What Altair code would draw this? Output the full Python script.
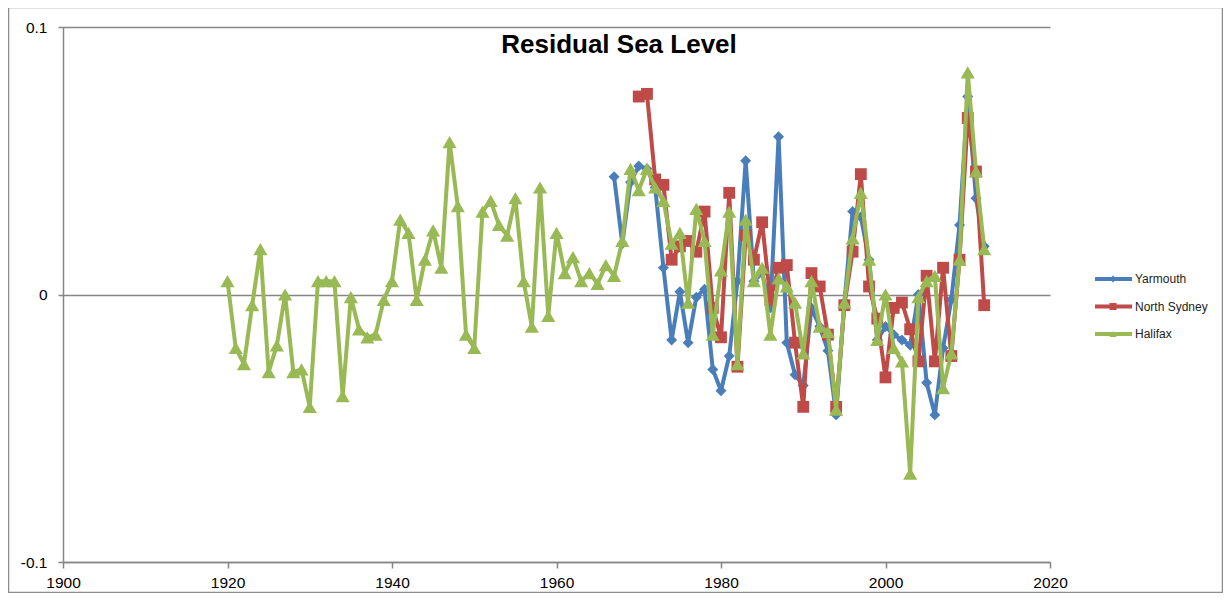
import altair as alt
import pandas as pd

names = ["Yarmouth", "North Sydney", "Halifax"]
colors = ["#4A7EBB", "#BE4B48", "#98B954"]
shapes = ["diamond", "square", "triangle-up"]
marker_sizes = [120, 140, 200]

yarmouth_years = list(range(1967, 2013))
yarmouth = [0.044, 0.019, 0.042, 0.048, 0.047, 0.040, 0.010, -0.017, 0.001, -0.018,
            -0.001, 0.002, -0.028, -0.036, -0.023, 0.005, 0.050, 0.005, 0.008, -0.005,
            0.059, -0.018, -0.030, -0.034, -0.005, -0.012, -0.021, -0.045, -0.003, 0.031,
            0.029, 0.013, -0.017, -0.012, -0.015, -0.017, -0.019, 0.000, -0.033, -0.045,
            -0.020, -0.002, 0.026, 0.074, 0.036, 0.018]

north_sydney_years = list(range(1970, 2013))
north_sydney = [0.074, 0.075, 0.043, 0.041, 0.013, 0.018, 0.020, 0.016, 0.031, -0.005,
                -0.016, 0.038, -0.027, 0.022, 0.013, 0.027, -0.002, 0.010, 0.011, -0.018,
                -0.042, 0.008, 0.003, -0.015, -0.042, -0.004, 0.016, 0.045, 0.003, -0.009,
                -0.031, -0.005, -0.003, -0.013, -0.025, 0.007, -0.025, 0.010, -0.023, 0.013,
                0.066, 0.046, -0.004]

halifax_years = list(range(1920, 2013))
halifax = [0.005, -0.020, -0.026, -0.004, 0.017, -0.029, -0.019, 0.000, -0.029, -0.028,
           -0.042, 0.005, 0.005, 0.005, -0.038, -0.001, -0.013, -0.016, -0.015, -0.002,
           0.005, 0.028, 0.023, -0.002, 0.013, 0.024, 0.010, 0.057, 0.033, -0.015,
           -0.020, 0.031, 0.035, 0.026, 0.022, 0.036, 0.005, -0.012, 0.040, -0.008,
           0.023, 0.008, 0.014, 0.005, 0.008, 0.004, 0.011, 0.007, 0.020, 0.047,
           0.039, 0.047, 0.040, 0.035, 0.019, 0.023, -0.003, 0.032, 0.020, -0.015,
           0.009, 0.031, -0.026, 0.028, 0.005, 0.010, -0.015, 0.006, 0.003, -0.003,
           -0.022, 0.005, -0.012, -0.014, -0.043, -0.003, 0.021, 0.038, 0.013, -0.017,
           0.000, -0.020, -0.025, -0.067, -0.001, 0.005, 0.007, -0.035, -0.022, 0.013,
           0.083, 0.046, 0.017]

x_ticks = [1900, 1920, 1940, 1960, 1980, 2000, 2020]
y_ticks = [-0.1, 0, 0.1]

series = [
    (names[0], yarmouth_years, yarmouth),
    (names[1], north_sydney_years, north_sydney),
    (names[2], halifax_years, halifax),
]
df = pd.concat([pd.DataFrame({"year": yrs, "level": vals, "station": name})
                for name, yrs, vals in series])

FONT = "Liberation Sans"
AXIS_GREY = "#868686"

color_scale = alt.Scale(domain=names, range=colors)
x_enc = alt.X("year:Q", scale=alt.Scale(domain=[1900, 2020], nice=False, zero=False),
              axis=alt.Axis(values=x_ticks, format="d", title=None, grid=False,
                            tickSize=6, labelPadding=7, labelFlush=False))
y_enc = alt.Y("level:Q", scale=alt.Scale(domain=[-0.1, 0.1], nice=False),
              axis=alt.Axis(values=y_ticks, title=None, grid=True, tickSize=5,
                            labelPadding=11,
                            labelExpr="datum.value == 0 ? '0' : toString(datum.value)"))
col_enc = alt.Color("station:N", scale=color_scale, legend=None)

layers = []

# outer chart frame (Excel style border)
one = pd.DataFrame({"k": [0]})
layers.append(alt.Chart(one).mark_rect(fillOpacity=0, stroke="#8c8c8c", strokeWidth=1.5).encode(
    x=alt.value(-54.5), x2=alt.value(1159.5), y=alt.value(-19.5), y2=alt.value(565.5)))

# one line + marker layer per station, drawn in legend order
for name, shape, msize in zip(names, shapes, marker_sizes):
    sub = alt.Chart(df).transform_filter(alt.datum.station == name)
    layers.append(sub.mark_line(strokeWidth=4, strokeJoin="round").encode(
        x=x_enc, y=y_enc, color=col_enc))
    layers.append(sub.mark_point(filled=True, opacity=1, shape=shape, size=msize).encode(
        x=x_enc, y=y_enc, color=col_enc))

# title inside the plot area
title_df = pd.DataFrame({"t": ["Residual Sea Level"]})
layers.append(alt.Chart(title_df).mark_text(
    font=FONT, fontSize=26, fontWeight="bold", color="black", align="center",
    baseline="alphabetic").encode(text="t:N", x=alt.value(556), y=alt.value(26)))

# legend on the right
for i, (name, color, shape) in enumerate(zip(names, colors, shapes)):
    ly = 252 + i * 27.5
    row = pd.DataFrame({"station": [name]})
    layers.append(alt.Chart(row).mark_rule(color=color, strokeWidth=4).encode(
        x=alt.value(1032), x2=alt.value(1069), y=alt.value(ly)))
    layers.append(alt.Chart(row).mark_point(filled=True, opacity=1, shape=shape, size=50,
                                            color=color).encode(
        x=alt.value(1050), y=alt.value(ly)))
    layers.append(alt.Chart(row).mark_text(font=FONT, fontSize=12, color="#222222",
                                           align="left", baseline="middle").encode(
        text="station:N", x=alt.value(1072), y=alt.value(ly)))

chart = alt.layer(*layers).properties(
    width=987,
    height=535,
    padding={"left": 55, "top": 19, "right": 173, "bottom": 31},
    autosize=alt.AutoSizeParams(type="none"),
    background="white",
).configure_view(strokeWidth=0).configure_axis(
    labelFont=FONT, labelFontSize=15.5, labelColor="black",
    domainColor=AXIS_GREY, tickColor=AXIS_GREY, gridColor=AXIS_GREY,
    domainWidth=1.5, tickWidth=1.5, gridWidth=1.5,
)

chart.save("out.html", embed_options={"renderer": "svg", "actions": False})
